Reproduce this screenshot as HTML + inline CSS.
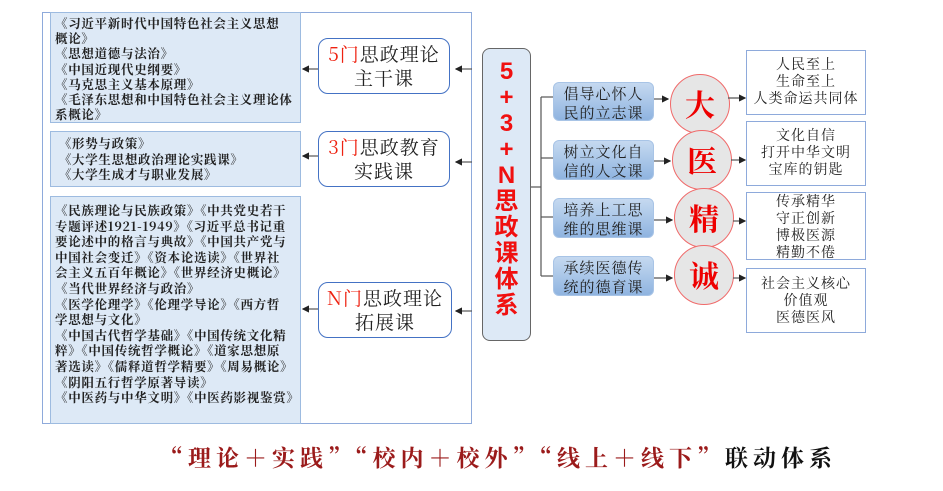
<!DOCTYPE html>
<html><head><meta charset="utf-8"><style>
body{margin:0;width:943px;height:491px;background:#fff;position:relative;overflow:hidden;font-family:"Noto Serif CJK SC","Liberation Serif",serif;}
.a{position:absolute;box-sizing:border-box;}
.lb{background:#dde9f6;border:1px solid #9dbbe0;font-size:12.5px;line-height:15.6px;font-weight:bold;color:#222;padding:2px 0 0 4px;letter-spacing:0.7px;white-space:nowrap;overflow:hidden;font-family:"Noto Serif CJK SC",serif}
.mb{background:#fff;border:1.5px solid #4472c4;border-radius:10px;text-align:center;font-size:19px;line-height:24px;color:#222;padding-top:3px;letter-spacing:1px}
.r{color:#e21;}
.gb{background:linear-gradient(#c5d9f0,#8fb4e0);border-radius:6px;font-size:15px;line-height:19px;color:#222;text-align:center;padding-top:1px;letter-spacing:1px;border:1px solid #a8c4e6}
.c{width:60px;height:60px;border-radius:50%;background:#e6e6e6;border:1.5px solid #f06a6a;text-align:center;font-size:30px;line-height:56px;color:#e00;font-weight:bold;font-family:"Noto Serif CJK SC",serif}
.rb{background:#fff;border:1.5px solid #8eaadb;text-align:center;font-size:14px;line-height:17px;color:#222;letter-spacing:1px}
</style></head><body>
<div class="a" style="left:42px;top:12px;width:430px;height:412px;border:1.5px solid #8eaadb;"></div>
<div class="a lb" style="left:50px;top:12px;width:251px;height:111px;padding-top:3px;line-height:15.2px">《习近平新时代中国特色社会主义思想<br>概论》<br>《思想道德与法治》<br>《中国近现代史纲要》<br>《马克思主义基本原理》<br>《毛泽东思想和中国特色社会主义理论体<br>系概论》</div>
<div class="a lb" style="left:50px;top:131px;width:251px;height:56px;padding-top:4px">&nbsp;《形势与政策》<br>&nbsp;《大学生思想政治理论实践课》<br>&nbsp;《大学生成才与职业发展》</div>
<div class="a lb" style="left:50px;top:196px;width:251px;height:228px;padding-top:6px">《民族理论与民族政策》《中共党史若干<br>专题评述1921-1949》《习近平总书记重<br>要论述中的格言与典故》《中国共产党与<br>中国社会变迁》《资本论选读》《世界社<br>会主义五百年概论》《世界经济史概论》<br>《当代世界经济与政治》<br>《医学伦理学》《伦理学导论》《西方哲<br>学思想与文化》<br>《中国古代哲学基础》《中国传统文化精<br>粹》《中国传统哲学概论》《道家思想原<br>著选读》《儒释道哲学精要》《周易概论》<br>《阴阳五行哲学原著导读》<br>《中医药与中华文明》《中医药影视鉴赏》</div>
<div class="a mb" style="left:318px;top:38px;width:132px;height:56px"><span class="r">5门</span>思政理论<br>主干课</div>
<div class="a mb" style="left:318px;top:131px;width:132px;height:56px"><span class="r">3门</span>思政教育<br>实践课</div>
<div class="a mb" style="left:318px;top:282px;width:134px;height:56px"><span class="r">N门</span>思政理论<br>拓展课</div>
<div class="a" style="left:482px;top:48px;width:49px;height:293px;background:#dde9f6;border:1.5px solid #666;border-radius:8px;color:#f01010;font-weight:bold;font-size:24px;line-height:26px;text-align:center;padding-top:10px;font-family:'Liberation Sans','Noto Sans CJK SC',sans-serif">5<br>+<br>3<br>+<br>N<br>思<br>政<br>课<br>体<br>系</div>
<div class="a gb" style="left:553px;top:82px;width:101px;height:39px">倡导心怀人<br>民的立志课</div>
<div class="a gb" style="left:553px;top:140px;width:101px;height:40px">树立文化自<br>信的人文课</div>
<div class="a gb" style="left:553px;top:198px;width:101px;height:40px">培养上工思<br>维的思维课</div>
<div class="a gb" style="left:553px;top:256px;width:101px;height:40px">承续医德传<br>统的德育课</div>
<div class="a c" style="left:670px;top:74px">大</div>
<div class="a c" style="left:672px;top:130px">医</div>
<div class="a c" style="left:674px;top:188px">精</div>
<div class="a c" style="left:674px;top:245px">诚</div>
<div class="a rb" style="left:746px;top:50px;width:120px;height:65px;padding-top:5px">人民至上<br>生命至上<br>人类命运共同体</div>
<div class="a rb" style="left:746px;top:121px;width:120px;height:65px;padding-top:5px">文化自信<br>打开中华文明<br>宝库的钥匙</div>
<div class="a rb" style="left:746px;top:192px;width:120px;height:68px;padding-top:0">传承精华<br>守正创新<br>博极医源<br>精勤不倦</div>
<div class="a rb" style="left:746px;top:268px;width:120px;height:65px;padding-top:6px">社会主义核心<br>价值观<br>医德医风</div>
<svg class="a" style="left:0;top:0" width="943" height="491">
<defs><marker id="ar" markerWidth="6" markerHeight="6" refX="5" refY="3" orient="auto"><path d="M0,0L6,3L0,6z" fill="#222"/></marker></defs>
<g stroke="#555" stroke-width="1.2" fill="none">
<line x1="318" y1="69" x2="303" y2="69" marker-end="url(#ar)"/>
<line x1="318" y1="156" x2="303" y2="156" marker-end="url(#ar)"/>
<line x1="318" y1="309" x2="303" y2="309" marker-end="url(#ar)"/>
<line x1="472" y1="69" x2="456" y2="69" marker-end="url(#ar)"/>
<line x1="472" y1="162" x2="456" y2="162" marker-end="url(#ar)"/>
<line x1="472" y1="311" x2="456" y2="311" marker-end="url(#ar)"/>
<line x1="531" y1="187" x2="541" y2="187"/>
<line x1="541" y1="97" x2="541" y2="276"/>
<line x1="541" y1="97" x2="553" y2="97"/><line x1="541" y1="158" x2="553" y2="158"/>
<line x1="541" y1="217" x2="553" y2="217"/><line x1="541" y1="276" x2="553" y2="276"/>
<line x1="654" y1="99" x2="668" y2="99" marker-end="url(#ar)"/>
<line x1="654" y1="161" x2="670" y2="161" marker-end="url(#ar)"/>
<line x1="654" y1="220" x2="672" y2="220" marker-end="url(#ar)"/>
<line x1="654" y1="278" x2="672" y2="278" marker-end="url(#ar)"/>
<line x1="728" y1="98" x2="745" y2="98" marker-end="url(#ar)"/>
<line x1="731" y1="160" x2="745" y2="160" marker-end="url(#ar)"/>
<line x1="733" y1="221" x2="745" y2="221" marker-end="url(#ar)"/>
<line x1="733" y1="278" x2="745" y2="278" marker-end="url(#ar)"/>
</g></svg>
<div class="a" style="left:160px;top:442px;width:720px;font-size:23px;line-height:30px;font-weight:bold;color:#9b1b1b;letter-spacing:5px;white-space:nowrap;font-family:'Noto Serif CJK SC',serif">“理论＋实践”“校内＋校外”“线上＋线下”<span style="color:#111">联动体系</span></div>
</body></html>
